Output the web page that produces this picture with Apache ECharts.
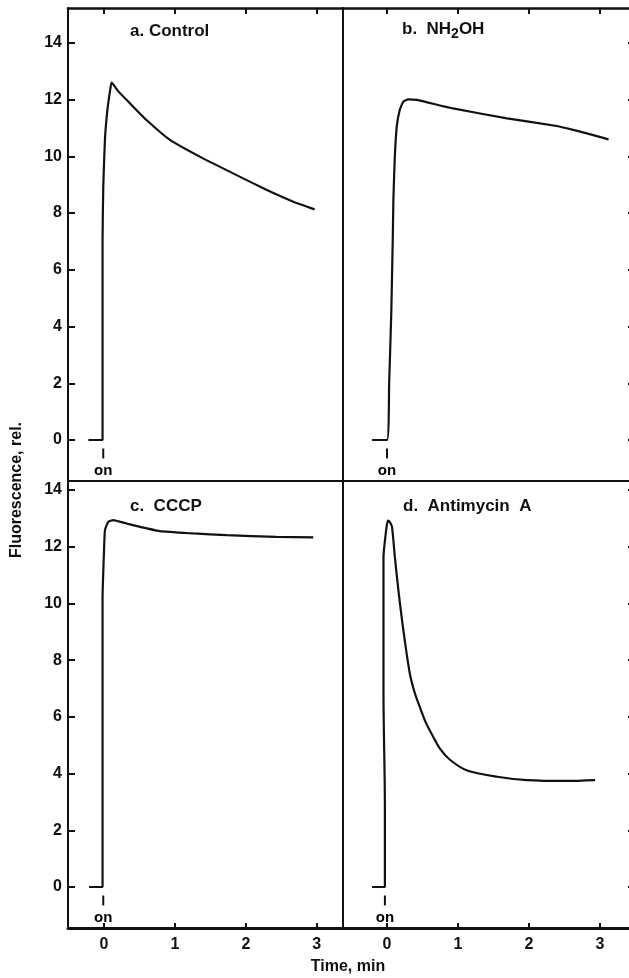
<!DOCTYPE html>
<html>
<head>
<meta charset="utf-8">
<script src="https://cdn.jsdelivr.net/npm/echarts@6/dist/echarts.min.js"></script>
<style>
  html, body { margin: 0; padding: 0; background: #fff; }
  #chart { width: 629px; height: 978px; }
</style>
</head>
<body>
<div id="chart"></div>
<script>
// tick labels
const timeTicks = [0, 1, 2, 3]
const fluorTicks = [0, 2, 4, 6, 8, 10, 12, 14]

// a. Control
const aTime = [-0.22, -0.02, -0.02, -0.02, -0.01, 0.014, 0.047, 0.085, 0.108, 0.2, 0.366, 0.6, 0.93, 1.35, 1.82, 2.29, 2.67, 2.97]
const aFluor = [0, 0, 3.5, 7.0, 8.9, 10.6, 11.6, 12.3, 12.6, 12.3, 11.87, 11.28, 10.58, 9.99, 9.4, 8.82, 8.4, 8.13]
// b. NH2OH
const bTime = [-0.21, 0.0, 0.03, 0.06, 0.08, 0.09, 0.11, 0.137, 0.18, 0.23, 0.3, 0.42, 0.93, 1.69, 2.39, 2.53, 2.8, 3.12]
const bFluor = [0, 0, 2, 4.5, 7, 8.5, 10, 11.05, 11.64, 11.93, 12.01, 11.99, 11.69, 11.34, 11.07, 10.99, 10.82, 10.6]
// c. CCCP
const cTime = [-0.21, -0.02, -0.02, -0.02, 0.0, 0.014, 0.06, 0.13, 0.32, 0.79, 1.26, 1.73, 2.43, 2.95]
const cFluor = [0, 0, 5, 10.2, 11.8, 12.59, 12.88, 12.94, 12.82, 12.55, 12.47, 12.41, 12.35, 12.33]
// d. Antimycin A
const dTime = [-0.21, -0.03, -0.03, -0.05, -0.05, -0.03, 0.0, 0.02, 0.045, 0.07, 0.11, 0.16, 0.23, 0.32, 0.39, 0.46, 0.55, 0.65, 0.75, 0.89, 1.12, 1.55, 1.97, 2.53, 2.93]
const dFluor = [0, 0, 2.8, 6.9, 11.6, 12.2, 12.8, 12.92, 12.85, 12.7, 11.65, 10.47, 9.06, 7.54, 6.85, 6.36, 5.78, 5.3, 4.86, 4.48, 4.12, 3.89, 3.77, 3.74, 3.77]

// "on" marker (light switched on)
const onTime = [-0.01, 0.0, -0.01, -0.03]
const onTick = [-0.3, -0.65]
const onTextLevel = -1.1

const INK = '#111'
const FONT = 'Liberation Sans, Arial, sans-serif'

const zip = (xs, ys) => xs.map((x, i) => [x, ys[i]])

// panel layout (px)
const panels = [
  { grid: { left: 68, top: 8, width: 275, height: 473 }, x: [-0.507, 3.37], y: [-1.446, 15.23], top: true, left: true, t: aTime, f: aFluor },
  { grid: { left: 343, top: 8, width: 289, height: 473 }, x: [-0.62, 3.45], y: [-1.446, 15.23], top: true, left: false, t: bTime, f: bFluor },
  { grid: { left: 68, top: 481, width: 275, height: 447 }, x: [-0.507, 3.37], y: [-1.446, 14.32], top: false, left: true, t: cTime, f: cFluor },
  { grid: { left: 343, top: 481, width: 289, height: 447 }, x: [-0.62, 3.45], y: [-1.446, 14.32], top: false, left: false, t: dTime, f: dFluor },
]

const grids = []
const xAxes = []
const yAxes = []
const series = []

panels.forEach((p, i) => {
  grids.push(Object.assign({ outerBoundsMode: 'none', containLabel: false }, p.grid))
  // bottom x axis
  xAxes.push({
    type: 'value', gridIndex: i, position: 'bottom', min: p.x[0], max: p.x[1],
    axisLine: { onZero: false, lineStyle: { color: INK, width: p.top ? 2 : 3 } },
    axisTick: { show: !p.top, inside: true, length: 5, customValues: timeTicks, lineStyle: { color: INK, width: 2 } },
    axisLabel: { show: !p.top, customValues: timeTicks, margin: 9, color: INK, fontSize: 16, fontWeight: 'bold', fontFamily: FONT },
    splitLine: { show: false },
  })
  // top x axis
  xAxes.push({
    type: 'value', gridIndex: i, position: 'top', min: p.x[0], max: p.x[1],
    axisLine: { onZero: false, lineStyle: { color: INK, width: p.top ? 2.5 : 2 } },
    axisTick: { show: p.top, inside: true, length: 6, customValues: timeTicks, lineStyle: { color: INK, width: 2 } },
    axisLabel: { show: false },
    splitLine: { show: false },
  })
  // left y axis
  yAxes.push({
    type: 'value', gridIndex: i, position: 'left', min: p.y[0], max: p.y[1],
    axisLine: { onZero: false, lineStyle: { color: INK, width: 2 } },
    axisTick: { show: p.left, inside: true, length: 7, customValues: fluorTicks, lineStyle: { color: INK, width: 2 } },
    axisLabel: { show: p.left, customValues: fluorTicks, margin: 6, color: INK, fontSize: 16, fontWeight: 'bold', fontFamily: FONT },
    splitLine: { show: false },
  })
  // right y axis
  yAxes.push({
    type: 'value', gridIndex: i, position: 'right', min: p.y[0], max: p.y[1],
    axisLine: { onZero: false, lineStyle: { color: INK, width: 2 } },
    axisTick: { show: !p.left, inside: true, length: 4, customValues: fluorTicks, lineStyle: { color: INK, width: 2 } },
    axisLabel: { show: false },
    splitLine: { show: false },
  })

  series.push({
    type: 'line', xAxisIndex: 2 * i, yAxisIndex: 2 * i,
    data: zip(p.t, p.f), showSymbol: false, symbol: 'none', smooth: i === 3 ? 0.3 : 0.15,
    lineStyle: { color: INK, width: 2.2 }, silent: true,
  })
  series.push({
    type: 'line', xAxisIndex: 2 * i, yAxisIndex: 2 * i,
    data: onTick.map(v => [onTime[i], v]), symbol: 'none',
    lineStyle: { color: INK, width: 2 }, silent: true,
  })
  series.push({
    type: 'scatter', xAxisIndex: 2 * i, yAxisIndex: 2 * i,
    data: [[onTime[i], onTextLevel]], symbolSize: 0, silent: true,
    itemStyle: { opacity: 1 },
    label: { show: true, position: 'inside', formatter: 'on', color: '#000', opacity: 1, fontSize: 15, fontWeight: 'bold', fontFamily: FONT },
  })
})

const textStyle = (text, extra) => Object.assign({
  text, fill: INK, fontSize: 17, fontFamily: FONT, fontWeight: 'bold',
  align: 'left', verticalAlign: 'middle',
}, extra)

const chart = echarts.init(document.getElementById('chart'), null, { renderer: 'canvas' })
chart.setOption({
  animation: false,
  backgroundColor: '#fff',
  grid: grids,
  xAxis: xAxes,
  yAxis: yAxes,
  series,
  graphic: [
    { type: 'text', x: 130, y: 31, style: textStyle('a. Control') },
    {
      type: 'text', x: 402, y: 21,
      style: {
        text: '{m|b.  NH}{s|2}{m|OH}', fill: INK, fontFamily: FONT, fontWeight: 'bold',
        align: 'left', verticalAlign: 'top',
        rich: {
          m: { fontSize: 17, fontWeight: 'bold', fontFamily: FONT, lineHeight: 20, verticalAlign: 'top' },
          s: { fontSize: 14, fontWeight: 'bold', fontFamily: FONT, lineHeight: 11, verticalAlign: 'bottom' },
        },
      },
    },
    { type: 'text', x: 130, y: 506, style: textStyle('c.  CCCP') },
    { type: 'text', x: 403, y: 506, style: textStyle('d.  Antimycin  A') },
    { type: 'text', x: 17, y: 490, rotation: Math.PI / 2, style: textStyle('Fluorescence, rel.', { align: 'center', fontSize: 16 }) },
    { type: 'text', x: 348, y: 967, style: textStyle('Time, min', { align: 'center', fontSize: 16 }) },
  ],
})
</script>
</body>
</html>
